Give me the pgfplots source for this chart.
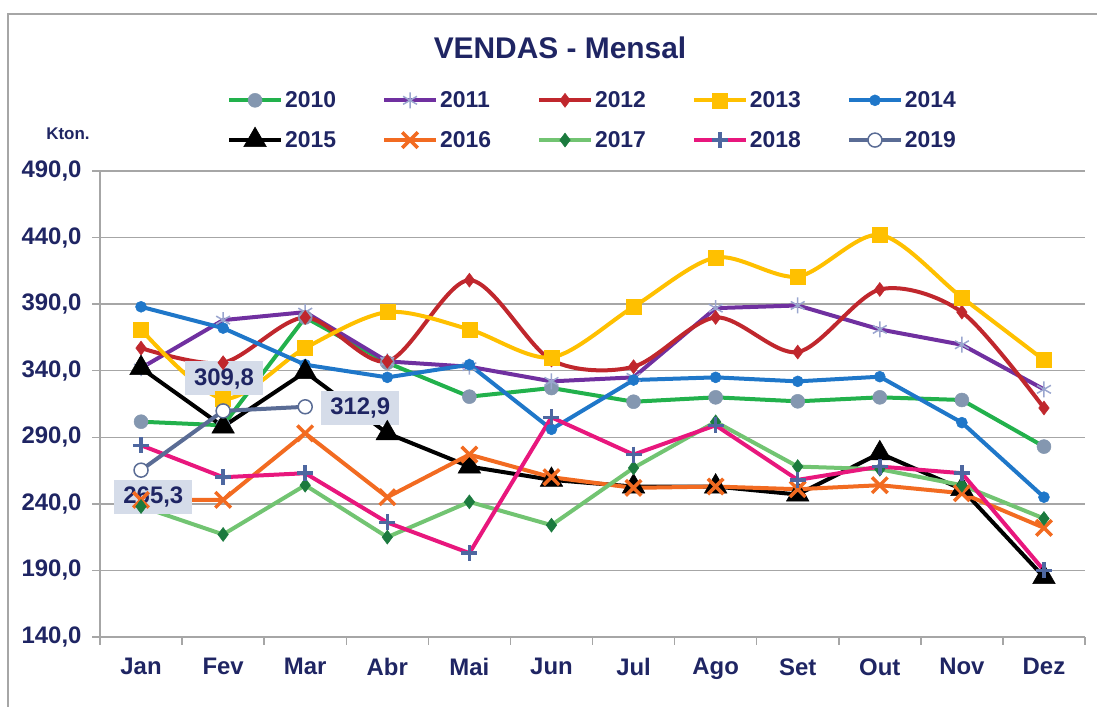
\documentclass[border=0pt]{standalone}
\usepackage{fontspec}
\setmainfont{Liberation Sans}
\usepackage{pgfplots}
\pgfplotsset{compat=1.18}

\definecolor{navy}{HTML}{1F2563}
\definecolor{gridgray}{HTML}{A6A6A6}
\definecolor{lblfill}{HTML}{D5DCE9}
\definecolor{c2010}{HTML}{22B14C}
\definecolor{m2010}{HTML}{8497B0}
\definecolor{c2011}{HTML}{7030A0}
\definecolor{m2011}{HTML}{9AA6CF}
\definecolor{c2012}{HTML}{C0272D}
\definecolor{c2013}{HTML}{FFC000}
\definecolor{c2014}{HTML}{1F77C9}
\definecolor{c2016}{HTML}{F26B21}
\definecolor{c2017}{HTML}{72C472}
\definecolor{m2017}{HTML}{1B7A3E}
\definecolor{c2018}{HTML}{E8177D}
\definecolor{m2018}{HTML}{4E67A0}
\definecolor{c2019}{HTML}{5A6C95}

\begin{document}
\begin{tikzpicture}[x=1bp,y=1bp]
\useasboundingbox (0,0) rectangle (1097,707);
\draw[gridgray, line width=2bp] (8,0) -- (8,693) -- (1097,693);

\begin{axis}[
    at={(100bp,70bp)}, anchor=south west,
    scale only axis,
    width=985bp, height=466bp,
    xmin=-0.5, xmax=11.5,
    ymin=140, ymax=490,
    ytick={140,190,...,490},
    xtick={-0.5,0.5,...,11.5},
    xticklabels={},
    extra x ticks={0,1,...,11},
    extra x tick labels={Jan,Fev,Mar,Abr,Mai,Jun,Jul,Ago,Set,Out,Nov,Dez},
    extra x tick style={major tick length=0pt},
    axis x line*=bottom,
    axis y line*=left,
    axis line style={gridgray, line width=1.5bp},
    tick style={gridgray, line width=1.5bp},
    tick align=outside,
    major tick length=8bp,
    ymajorgrids,
    grid style={gridgray, line width=1.5bp},
    /pgf/number format/.cd, fixed, fixed zerofill, precision=1, use comma, 1000 sep={}, assume math mode=true,
    /pgfplots/.cd,
    ticklabel style={font=\bfseries\fontsize{24}{24}\selectfont, text=navy},
    xticklabel style={yshift=-18bp},
    yticklabel style={xshift=-7bp},
    legend columns=5,
    legend cell align=left,
    legend style={at={(0.5,1.109)}, anchor=center, draw=none, fill=none,
        font=\bfseries\fontsize{23}{23}\selectfont, text=navy,
        nodes={inner sep=2bp},
        /tikz/every even column/.append style={column sep=44bp},
        /tikz/row sep=16bp},
    legend image code/.code={\draw[mark repeat=2,mark phase=2,#1] plot coordinates {(0bp,0bp) (26bp,0bp) (52bp,0bp)};},
    every axis plot/.append style={line width=4bp},
    clip=false,
]
\addplot[c2010, mark=*, mark size=7bp, mark options={fill=m2010, draw=m2010, line width=0.5bp}]
  coordinates {(0,301.7) (1,299) (2,380) (3,346) (4,320.5) (5,327) (6,316.7) (7,320) (8,317) (9,320) (10,318) (11,283)};
\addlegendentry{2010}
\addplot[c2011, mark=asterisk, mark size=8bp, mark options={draw=m2011, line width=1.5bp}]
  coordinates {(0,342) (1,378) (2,384) (3,347) (4,343) (5,332) (6,335) (7,387) (8,389) (9,371) (10,359.5) (11,326)};
\addlegendentry{2011}
\addplot[c2012, smooth, mark=diamond*, mark size=7bp, mark options={line width=0.5bp}]
  coordinates {(0,357) (1,346) (2,380) (3,347) (4,408) (5,348) (6,343) (7,380) (8,354) (9,401) (10,384) (11,312)};
\addlegendentry{2012}
\addplot[c2013, smooth, mark=square*, mark size=7.5bp, mark options={line width=0.5bp}]
  coordinates {(0,371) (1,319) (2,357) (3,384) (4,371) (5,350) (6,388) (7,425) (8,410.7) (9,442) (10,395) (11,348)};
\addlegendentry{2013}
\addplot[c2014, mark=*, mark size=5.5bp, mark options={line width=0.5bp}]
  coordinates {(0,388) (1,372) (2,344.5) (3,335) (4,344.5) (5,296) (6,333) (7,335) (8,332) (9,335.5) (10,301) (11,245)};
\addlegendentry{2014}
\addplot[black, mark=triangle*, mark size=13bp, mark options={line width=0.5bp}]
  coordinates {(0,342) (1,298) (2,339) (3,293) (4,268) (5,258) (6,253) (7,253) (8,247) (9,278) (10,251) (11,185)};
\addlegendentry{2015}
\addplot[c2016, mark=x, mark size=11bp, mark options={line width=3.5bp}]
  coordinates {(0,243) (1,243) (2,293) (3,245) (4,277) (5,260) (6,252) (7,253) (8,251) (9,254) (10,248) (11,222)};
\addlegendentry{2016}
\addplot[c2017, mark=diamond*, mark size=7bp, mark options={fill=m2017, draw=m2017, line width=0.5bp}]
  coordinates {(0,238) (1,217) (2,254) (3,215) (4,241.5) (5,224) (6,267) (7,301.6) (8,268) (9,266) (10,254) (11,229)};
\addlegendentry{2017}
\addplot[c2018, mark=+, mark size=8bp, mark options={draw=m2018, line width=3.5bp}]
  coordinates {(0,284) (1,260) (2,263) (3,226) (4,203) (5,305) (6,277) (7,299) (8,258) (9,268) (10,263) (11,190)};
\addlegendentry{2018}
\addplot[c2019, mark=*, mark size=7bp, mark options={fill=white, draw=c2019, line width=1.5bp}]
  coordinates {(0,265.3) (1,309.8) (2,312.9)};
\addlegendentry{2019}

\tikzset{lbl/.style={fill=lblfill, text=navy, font=\bfseries\fontsize{24}{24}\selectfont,
    text height=17bp, text depth=3bp, inner xsep=9bp, inner ysep=7bp}}
\node[lbl] at (axis cs:0.15,245.2) {265,3};
\node[lbl] at (axis cs:1.01,334.5) {309,8};
\node[lbl] at (axis cs:2.67,312) {312,9};
\end{axis}

\node[font=\bfseries\fontsize{30}{30}\selectfont, text=navy] at (560,659) {VENDAS - Mensal};
\node[font=\bfseries\fontsize{17}{17}\selectfont, text=navy] at (68,573) {Kton.};
\end{tikzpicture}
\end{document}
